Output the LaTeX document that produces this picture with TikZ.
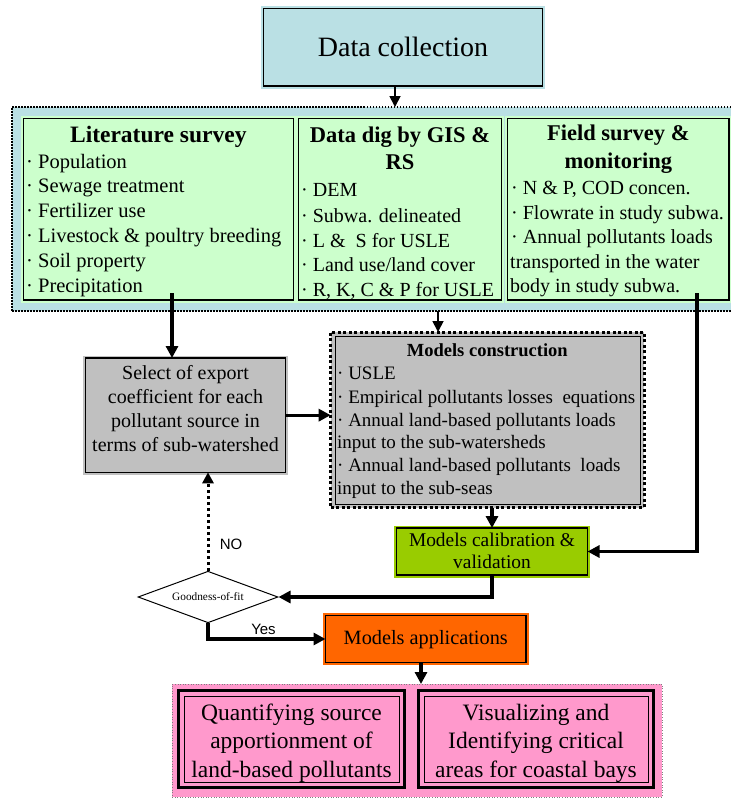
\documentclass[tikz,border=0pt]{standalone}
\usepackage{fontspec}
\setmainfont{Liberation Serif}
\newfontfamily\lsans{Liberation Sans}
\usetikzlibrary{arrows.meta,shapes.geometric,calc}
\definecolor{lblue}{RGB}{186,224,228}
\definecolor{lgreen}{RGB}{204,255,204}
\definecolor{mgray}{RGB}{192,192,192}
\definecolor{cgreen}{RGB}{153,204,0}
\definecolor{orng}{RGB}{255,102,0}
\definecolor{pnk}{RGB}{255,153,204}
\newcommand\FSz[2]{\fontsize{#1pt}{#2pt}\selectfont}
\begin{document}
\begin{tikzpicture}[x=1pt,y=-1pt,
  bx/.style={draw=black, line width=1.2pt, anchor=north west, inner sep=0pt, outer sep=0pt},
  halo/.style={preaction={draw=#1, line width=5pt}, fill=#1},
  ttl/.style={anchor=base, inner sep=0pt, font={\bfseries\FSz{22.5}{26}}},
  itm/.style={anchor=base west, inner sep=0pt, font={\FSz{20}{24}}},
  ctr/.style={anchor=base, inner sep=0pt},
  thickarr/.style={line width=3.2pt, -{Triangle[length=12pt,width=12pt]}},
  thinarr/.style={line width=1.8pt, -{Triangle[length=11pt,width=11pt]}},
  dblbox/.style={anchor=north west, draw=black, line width=3.2pt, inner sep=0pt, outer sep=0pt}
]
\useasboundingbox (0,0) rectangle (731,798);

% ---------- Data collection ----------
\node[bx, halo=lblue, minimum width=279pt, minimum height=77.5pt] (dc) at (263.5,8.5) {};
\node[ctr, font={\FSz{28}{32}}] (dct) at (403,56.2) {Data collection};

% ---------- container ----------
\node[anchor=north west, minimum width=721pt, minimum height=204pt, fill=lblue, draw=black,
      line width=1.5pt, dash pattern=on 1.5pt off 1.5pt, inner sep=0pt, outer sep=0pt] (cont) at (12,107) {};

\node[bx, halo=lgreen, minimum width=270pt, minimum height=181.7pt] (lit) at (23.3,118.3) {};
\node[bx, halo=lgreen, minimum width=203.4pt, minimum height=181.7pt] (gis) at (298.3,118.3) {};
\node[bx, halo=lgreen, minimum width=221.3pt, minimum height=181.7pt] (fld) at (507.7,118.3) {};

\node[ttl, font={\bfseries\FSz{23.5}{27}}] (litT) at (158.3,142.8) {Literature survey};
\foreach \i/\yy/\tx in {1/168/{· Population}, 2/192.8/{· Sewage treatment}, 3/217.6/{· Fertilizer use},
    4/242.4/{· Livestock \& poultry breeding}, 5/267.2/{· Soil property}, 6/292/{· Precipitation}}
  \node[itm, font={\FSz{20.5}{24}}] (lit\i) at (26,\yy) {\tx};

\node[ttl] (gisT1) at (400,142.4) {Data dig by GIS \&};
\node[ttl] (gisT2) at (400,169.1) {RS};
\foreach \i/\yy/\tx in {1/196.6/{· DEM}, 2/222.6/{· Subwa. delineated}, 3/247.3/{· L \&~ S for USLE},
    4/271.6/{· Land use/land cover}, 5/296.6/{· R, K, C \& P for USLE}}
  \node[itm] (gis\i) at (301,\yy) {\tx};

\node[ttl] (fT1) at (618.3,140.7) {Field survey \&};
\node[ttl] (fT2) at (618.3,168.1) {monitoring};
\node[itm] (f1) at (511,194.9) {· N \& P, COD concen.};
\node[itm] (f2) at (511,219.3) {· Flowrate in study subwa.};
\node[itm] (f3) at (511,243.3) {· Annual pollutants loads};
\node[itm] (f4) at (510,268.3) {transported in the water};
\node[itm] (f5) at (510,292.6) {body in study subwa.};

% ---------- select box ----------
\node[bx, halo=mgray, minimum width=200.4pt, minimum height=114.3pt] (sel) at (85.3,358) {};
\foreach \i/\yy/\tx in {1/379.3/{Select of export}, 2/403.3/{coefficient for each},
    3/427.3/{pollutant source in}, 4/451.6/{terms of sub-watershed}}
  \node[ctr, font={\FSz{20}{24}}] (sel\i) at (185.5,\yy) {\tx};

% ---------- models construction ----------
\node[anchor=north west, minimum width=313.3pt, minimum height=175.5pt, fill=mgray, draw=black,
      line width=3pt, dash pattern=on 3pt off 2.5pt, inner sep=0pt, outer sep=0pt] (mc) at (330.7,332) {};
\draw[line width=1pt] ($(mc.north west)+(4.5,4)$) rectangle ($(mc.south east)+(-4,-3.5)$);
\node[ctr, font={\bfseries\FSz{18.5}{22}}] (mcT) at (487.3,356.8) {Models construction};
\foreach \i/\yy/\tx in {1/379.3/{· USLE}, 2/403.3/{· Empirical pollutants losses~ equations},
    3/426.3/{· Annual land-based pollutants loads}, 4/448.3/{input to the sub-watersheds},
    5/471.3/{· Annual land-based pollutants~ loads}, 6/494.3/{input to the sub-seas}}
  \node[itm, font={\FSz{19}{23}}] (mc\i) at (337,\yy) {\tx};

% ---------- calibration ----------
\node[bx, halo=cgreen, minimum width=191pt, minimum height=47pt] (cal) at (396.5,528) {};
\node[ctr, font={\FSz{19.4}{22}}] (cal1) at (492,546.4) {Models calibration \&};
\node[ctr, font={\FSz{19.4}{22}}] (cal2) at (492,568.4) {validation};

% ---------- diamond ----------
\node[diamond, draw=black, line width=1pt, fill=white, minimum width=140pt, minimum height=51.6pt,
      inner sep=0pt, aspect=2.7, font={\FSz{11.3}{13}}] (dia) at (208,597) {Goodness-of-fit};

% ---------- applications ----------
\node[bx, halo=orng, minimum width=200.5pt, minimum height=47pt] (app) at (325.5,615.5) {};
\node[ctr, font={\FSz{20.3}{24}}] (appT) at (425.75,644.4) {Models applications};

% ---------- pink outputs ----------
\node[anchor=north west, minimum width=490pt, minimum height=113pt, fill=pnk, draw=gray,
      line width=0.6pt, dotted, inner sep=0pt, outer sep=0pt] (pk) at (172,684) {};
\node[dblbox, minimum width=226pt, minimum height=97pt] (q1) at (178.5,690.5) {};
\draw[line width=1pt] ($(q1.north west)+(5.5,5.5)$) rectangle ($(q1.south east)+(-5.5,-5.5)$);
\node[dblbox, minimum width=235pt, minimum height=97pt] (q2) at (418.5,690.5) {};
\draw[line width=1pt] ($(q2.north west)+(5.5,5.5)$) rectangle ($(q2.south east)+(-5.5,-5.5)$);
\foreach \i/\yy/\tx in {1/720.5/{Quantifying source}, 2/748.8/{apportionment of}, 3/777/{land-based pollutants}}
  \node[ctr, font={\FSz{23.5}{28}}] (q1t\i) at (291.5,\yy) {\tx};
\foreach \i/\yy/\tx in {1/720.5/{Visualizing and}, 2/748.8/{Identifying critical}, 3/777/{areas for coastal bays}}
  \node[ctr, font={\FSz{23.5}{28}}] (q2t\i) at (536,\yy) {\tx};

% ---------- labels ----------
\node[ctr, font={\lsans\FSz{15}{18}}] (no) at (231,549.3) {NO};
\node[ctr, font={\lsans\FSz{15}{18}}] (yes) at (263.5,634) {Yes};

% ---------- connectors ----------
\coordinate (a1) at (395,0);
\draw[thinarr] (a1 |- dc.south) -- (a1 |- cont.north);
\coordinate (litout) at (172,293);
\draw[thickarr] (litout) -- (litout |- sel.north);
\coordinate (g) at (438,0);
\draw[thinarr] (g |- cont.south) -- (g |- mc.north);
\draw[thickarr] (sel.east) -- (sel.east -| mc.west);
\draw[thickarr] (cal.north |- mc.south) -- (cal.north);
\coordinate (fout) at (697,293);
\draw[thickarr] (fout) |- (cal.east);
\draw[thickarr] (cal.south) |- (dia.east);
\draw[line width=3pt, dash pattern=on 3pt off 3pt, -{Triangle[length=11pt,width=11pt]}] (dia.north) -- (dia.north |- sel.south);
\draw[thickarr] (dia.south) |- (app.west);
\coordinate (ap) at (421,0);
\draw[thickarr] (ap |- app.south) -- (ap |- pk.north);
\end{tikzpicture}
\end{document}
